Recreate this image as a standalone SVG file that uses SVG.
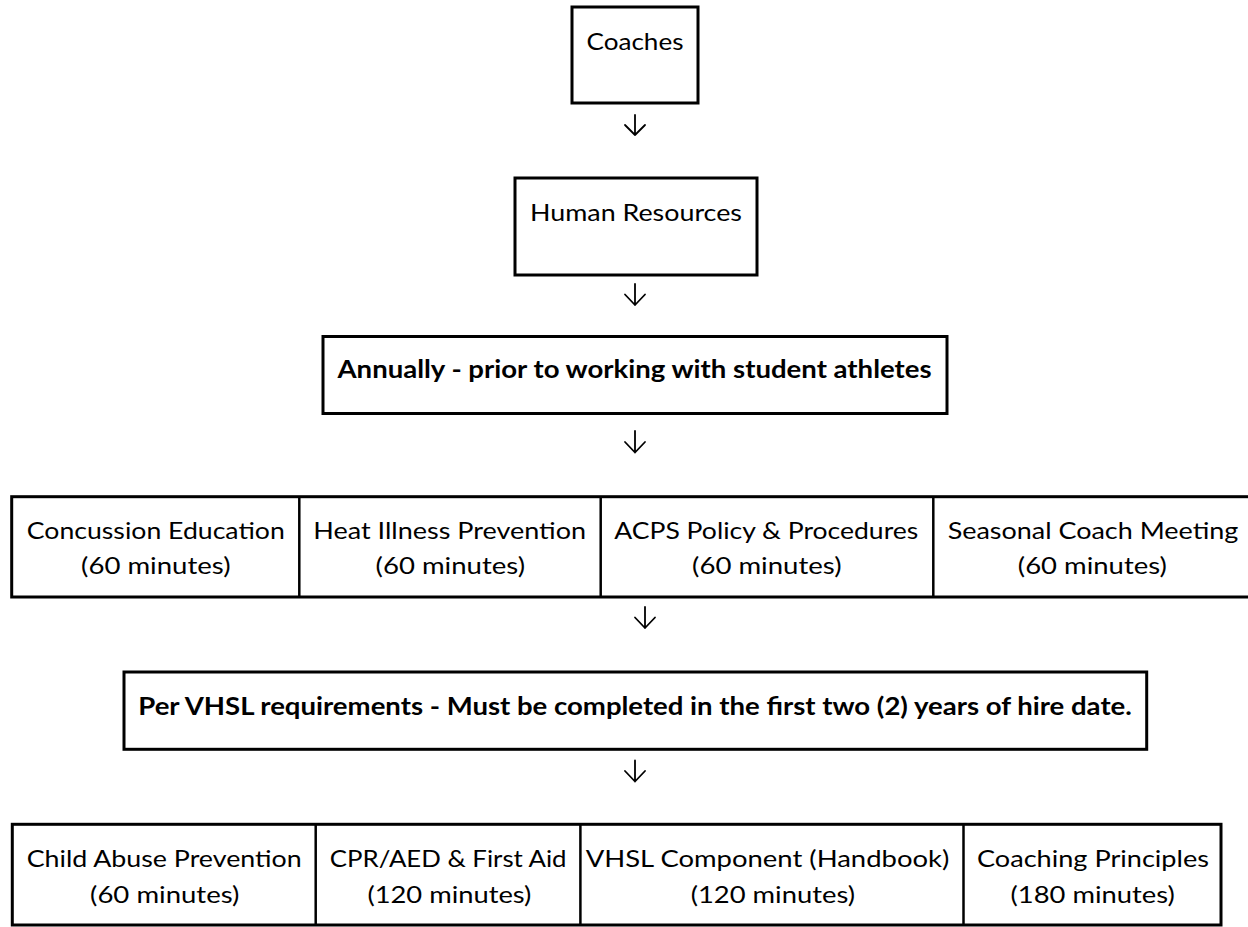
<svg xmlns="http://www.w3.org/2000/svg" width="1248" height="927" viewBox="0 0 1248 927">
<style>
.box{fill:#fff;stroke:#000;stroke-width:3}
.tbl{fill:#fff;stroke:#000;stroke-width:3}
.div{stroke:#000;stroke-width:2.5}
.t{font-family:Lato,"Liberation Sans",sans-serif;font-size:24px;fill:#000;text-anchor:middle}
.b{font-weight:bold}
.arr{fill:none;stroke:#000;stroke-width:1.8;stroke-linecap:round;stroke-linejoin:round}
</style>
<rect width="1248" height="927" fill="#fff"/>
<g id="connectors">
<path class="arr" d="M635 115V135M625 125L635 135L645 125"/>
<path class="arr" d="M635 284V305M625 294.5L635 305L645 294.5"/>
<path class="arr" d="M635 431V452.5M625 442L635 452.5L645 442"/>
<path class="arr" d="M645 607V628M635 617.5L645 628L655 617.5"/>
<path class="arr" d="M635 760.5V781.5M625 771L635 781.5L645 771"/>
</g>
<g id="node-coaches">
<rect class="box" x="572" y="7" width="126" height="96"/>
<text class="t" x="635" y="50" textLength="97" lengthAdjust="spacingAndGlyphs">Coaches</text>
</g>
<g id="node-human-resources">
<rect class="box" x="515" y="178" width="242" height="97"/>
<text class="t" x="636" y="220.7" textLength="212" lengthAdjust="spacingAndGlyphs">Human Resources</text>
</g>
<g id="node-annually">
<rect class="box" x="323" y="336.5" width="624" height="77"/>
<text class="t b" x="634.5" y="378.3" textLength="594" lengthAdjust="spacingAndGlyphs">Annually - prior to working with student athletes</text>
</g>
<g id="node-annual-trainings">
<rect class="tbl" x="11.7" y="496.7" width="1241" height="100.3"/>
<line class="div" x1="299.3" y1="496.7" x2="299.3" y2="597"/>
<line class="div" x1="600.7" y1="496.7" x2="600.7" y2="597"/>
<line class="div" x1="933.3" y1="496.7" x2="933.3" y2="597"/>
<g id="cell-concussion">
<text class="t" x="155.8" y="538.5" textLength="258" lengthAdjust="spacingAndGlyphs">Concussion Education</text>
<text class="t" x="155.8" y="574.3" textLength="149.5" lengthAdjust="spacingAndGlyphs">(60 minutes)</text>
</g>
<g id="cell-heat">
<text class="t" x="449.7" y="538.5" textLength="272.7" lengthAdjust="spacingAndGlyphs">Heat Illness Prevention</text>
<text class="t" x="450.3" y="574.3" textLength="149.5" lengthAdjust="spacingAndGlyphs">(60 minutes)</text>
</g>
<g id="cell-acps">
<text class="t" x="766.3" y="538.5" textLength="304" lengthAdjust="spacingAndGlyphs">ACPS Policy &amp; Procedures</text>
<text class="t" x="766.8" y="574.3" textLength="149.5" lengthAdjust="spacingAndGlyphs">(60 minutes)</text>
</g>
<g id="cell-seasonal">
<text class="t" x="1093" y="538.5" textLength="290.6" lengthAdjust="spacingAndGlyphs">Seasonal Coach Meeting</text>
<text class="t" x="1092.3" y="574.3" textLength="149" lengthAdjust="spacingAndGlyphs">(60 minutes)</text>
</g>
</g>
<g id="node-vhsl">
<rect class="box" x="124" y="672" width="1022.7" height="77.3"/>
<text class="t b" x="635" y="714.5" textLength="993.5" lengthAdjust="spacingAndGlyphs">Per VHSL requirements - Must be completed in the first two (2) years of hire date.</text>
</g>
<g id="node-vhsl-trainings">
<rect class="tbl" x="12.3" y="824.3" width="1208.7" height="100.7"/>
<line class="div" x1="315.7" y1="824.3" x2="315.7" y2="925"/>
<line class="div" x1="580.4" y1="824.3" x2="580.4" y2="925"/>
<line class="div" x1="963.5" y1="824.3" x2="963.5" y2="925"/>
<g id="cell-child-abuse">
<text class="t" x="164.2" y="867.3" textLength="275" lengthAdjust="spacingAndGlyphs">Child Abuse Prevention</text>
<text class="t" x="164.7" y="902.7" textLength="149.3" lengthAdjust="spacingAndGlyphs">(60 minutes)</text>
</g>
<g id="cell-cpr">
<text class="t" x="448.2" y="867.3" textLength="236.7" lengthAdjust="spacingAndGlyphs">CPR/AED &amp; First Aid</text>
<text class="t" x="449.4" y="902.7" textLength="164" lengthAdjust="spacingAndGlyphs">(120 minutes)</text>
</g>
<g id="cell-vhsl-component">
<text class="t" x="767.5" y="867.3" textLength="363.6" lengthAdjust="spacingAndGlyphs">VHSL Component (Handbook)</text>
<text class="t" x="772.8" y="902.7" textLength="164.3" lengthAdjust="spacingAndGlyphs">(120 minutes)</text>
</g>
<g id="cell-coaching">
<text class="t" x="1093" y="867.3" textLength="232" lengthAdjust="spacingAndGlyphs">Coaching Principles</text>
<text class="t" x="1092.6" y="902.7" textLength="164.2" lengthAdjust="spacingAndGlyphs">(180 minutes)</text>
</g>
</g>
</svg>
